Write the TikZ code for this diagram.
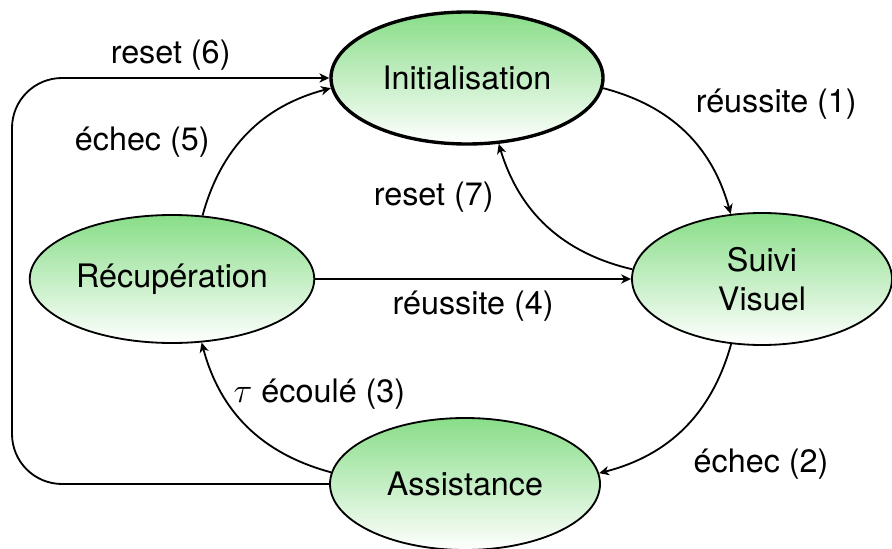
\documentclass[tikz,border=0pt]{standalone}
\usepackage{fontspec}
\setmainfont{TeX Gyre Heros}
\usetikzlibrary{arrows.meta,shapes.geometric}
\definecolor{stategreen}{HTML}{88DD88}

\begin{document}
\begin{tikzpicture}[
  font=\fontsize{23}{27.5}\selectfont,
  >={Stealth[length=7pt,width=6.5pt,inset=2pt]},
  state/.style={ellipse,draw,line width=1.3pt,top color=stategreen,bottom color=white,
    align=center,minimum height=3.3cm},
  trans/.style={->,line width=1.3pt},
  auto]
  \useasboundingbox (0,0) rectangle (22.3,13.7);

  % States
  \node[state,line width=2.4pt,minimum width=6.8cm] (init) at (11.675,11.75) {Initialisation};
  \node[state,minimum width=6.5cm] (suivi) at (19.05,6.725) {Suivi\\Visuel};
  \node[state,minimum width=6.8cm,minimum height=3.2cm] (recup) at (4.3,6.725) {Récupération};
  \node[state,minimum width=6.75cm] (assist) at (11.625,1.6) {Assistance};
  \coordinate (loopx) at (0.3,6.7);

  % Transitions
  \path[trans]
    (init) edge[bend left] node[xshift=0.12cm,yshift=0.18cm] {réussite (1)} (suivi)
    (suivi) edge[bend left] node[xshift=0.1cm,yshift=-0.38cm] {échec (2)} (assist)
    (assist) edge[bend left] node[swap,xshift=-0.48cm,yshift=0.3cm] {$\tau$ écoulé (3)} (recup)
    (recup) edge node[swap,yshift=-0.17cm] {réussite (4)} (suivi)
    (recup) edge[bend left] node[xshift=-0.82cm,yshift=-0.75cm] {échec (5)} (init)
    (suivi) edge[bend left] node[xshift=-1.2cm,yshift=1.25cm] {reset (7)} (init);
  \draw[trans,rounded corners=1.25cm] (assist.west) -| (loopx) |- node[pos=0.75,above,yshift=0.05cm] {reset (6)} (init.west);
\end{tikzpicture}
\end{document}
